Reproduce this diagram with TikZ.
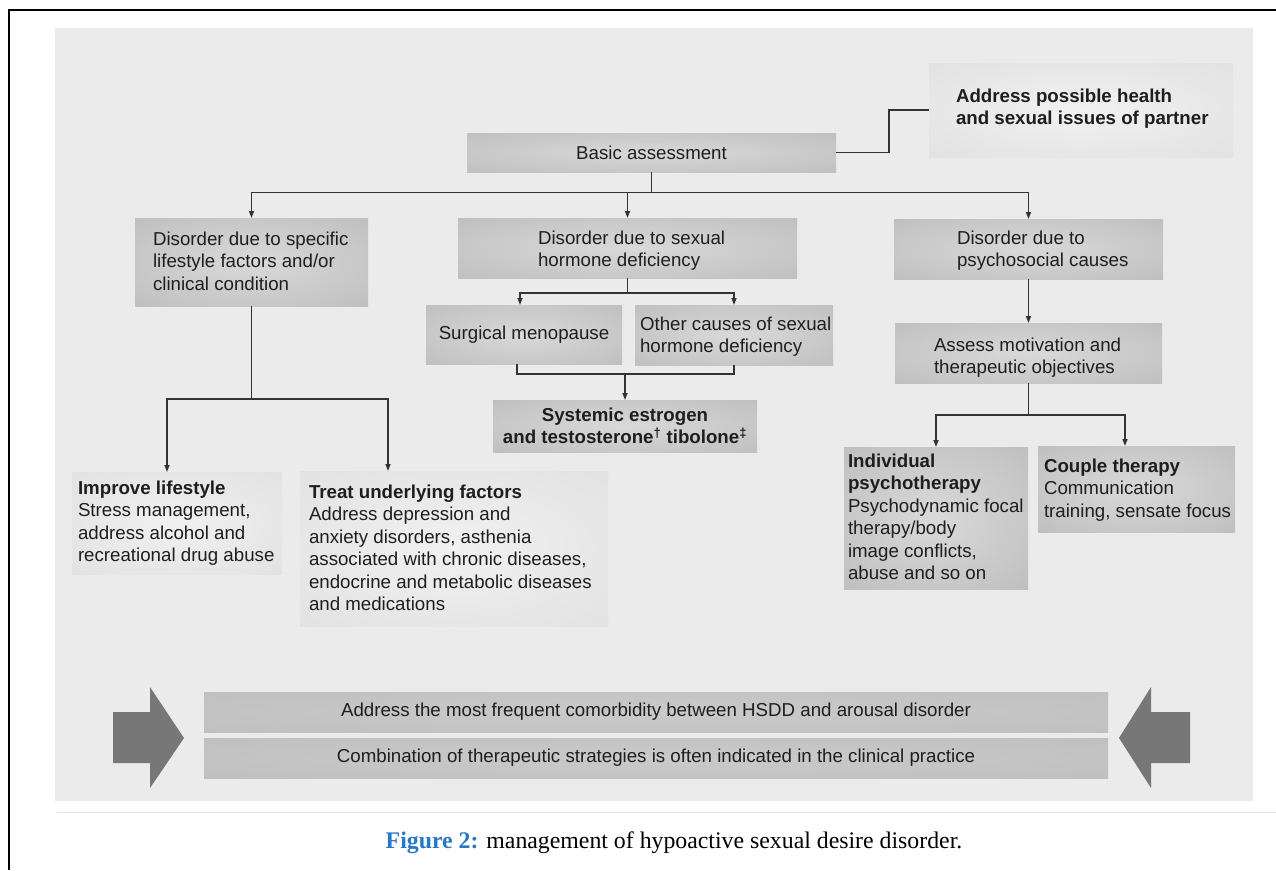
\documentclass[tikz,border=0pt]{standalone}
\usepackage{fontspec}
\setmainfont{Liberation Serif}
\newfontfamily\arialf{Liberation Sans}
\usetikzlibrary{arrows.meta,calc}
\definecolor{panel}{HTML}{EBEBEB}
\definecolor{boxin}{HTML}{D9D9D9}
\definecolor{boxout}{HTML}{B5B5B5}
\definecolor{litin}{HTML}{F1F1F1}
\definecolor{litout}{HTML}{DCDCDC}
\definecolor{barin}{HTML}{CACACA}
\definecolor{barout}{HTML}{BCBCBC}
\definecolor{bigarrow}{HTML}{777777}
\definecolor{lin}{HTML}{333333}
\definecolor{txt}{HTML}{1E1E1E}
\definecolor{figblue}{HTML}{2878C8}
\definecolor{faint}{HTML}{E6E6E6}
\pgfdeclareradialshading{darkshade}{\pgfpoint{0bp}{0bp}}{color(0bp)=(boxin); color(50bp)=(boxout); color(100bp)=(boxout)}
\pgfdeclareradialshading{lightshade}{\pgfpoint{0bp}{0bp}}{color(0bp)=(litin); color(50bp)=(litout); color(100bp)=(litout)}
\pgfdeclareradialshading{barshade}{\pgfpoint{0bp}{0bp}}{color(0bp)=(barin); color(50bp)=(barout); color(100bp)=(barout)}
\tikzset{
  basebox/.style={rectangle, inner sep=0pt, outer sep=0pt, draw=none, text=txt,
    font=\arialf\fontsize{18.7}{22.4}\selectfont, align=center},
  darkbox/.style={basebox, shading=darkshade},
  lightbox/.style={basebox, shading=lightshade},
  barbox/.style={basebox, shading=barshade},
  tx/.style={inner sep=0pt, outer sep=0pt, text=txt, align=left,
    font=\arialf\fontsize{18.7}{22.4}\selectfont, anchor=base west},
  conn/.style={draw=lin, line width=1.5pt},
  arr/.style={conn, -{Triangle[length=7pt,width=5pt]}},
}
\begin{document}
\begin{tikzpicture}[x=1pt,y=-1pt]
\useasboundingbox (0,0) rectangle (1276,870);
\fill[white] (0,0) rectangle (1276,870);
% panel
\fill[panel] (55,28) rectangle (1253,801);
\draw[faint, line width=1pt] (57,812) -- (1276,812);
% frame
\draw[black, line width=2.5pt] (9,870) -- (9,10) -- (1276,10);

% boxes
\node[darkbox, minimum width=369pt, minimum height=39pt] (basic) at (651.5,152.5) {Basic assessment};
\node[lightbox, minimum width=304pt, minimum height=94pt] (partner) at (1081,110) {};
\node[darkbox, minimum width=233pt, minimum height=88pt] (L1) at (251.5,262) {};
\node[darkbox, minimum width=339pt, minimum height=60pt] (M1) at (627.5,248) {};
\node[darkbox, minimum width=269pt, minimum height=60pt] (R1) at (1028.5,249) {};
\node[darkbox, minimum width=196pt, minimum height=59pt] (surg) at (524,334.5) {Surgical menopause};
\node[darkbox, minimum width=198pt, minimum height=60pt] (other) at (734,335) {};
\node[darkbox, minimum width=264pt, minimum height=52pt, font=\arialf\bfseries\fontsize{18.7}{22.4}\selectfont] (sys) at (625,426) {Systemic estrogen\\and testosterone\textsuperscript{\textdagger} tibolone\textsuperscript{\textdaggerdbl}};
\node[darkbox, minimum width=267pt, minimum height=60pt] (R2) at (1028.5,353) {};
\node[lightbox, minimum width=210pt, minimum height=102pt] (improve) at (177,523) {};
\node[lightbox, minimum width=308pt, minimum height=155pt] (treat) at (454,548.5) {};
\node[darkbox, minimum width=184pt, minimum height=142pt] (indiv) at (936,518) {};
\node[darkbox, minimum width=197pt, minimum height=86pt] (couple) at (1136.5,489) {};
\node[barbox, minimum width=904pt, minimum height=40pt] (b1) at (656,712) {Address the most frequent comorbidity between HSDD and arousal disorder};
\node[barbox, minimum width=904pt, minimum height=40pt] (b2) at (656,758) {Combination of therapeutic strategies is often indicated in the clinical practice};

% texts (anchored at the baseline of their last line)
\node[tx] (partner-t) at (956,124.9) {\bfseries Address possible health\\\bfseries and sexual issues of partner};
\node[tx] (L1-t) at (153,290.3) {Disorder due to specific\\lifestyle factors and/or\\clinical condition};
\node[tx] (M1-t) at (538,266.9) {Disorder due to sexual\\hormone deficiency};
\node[tx] (R1-t) at (957,266.9) {Disorder due to\\psychosocial causes};
\node[tx] (other-t) at (640,352.9) {Other causes of sexual\\hormone deficiency};
\node[tx] (R2-t) at (934,373.9) {Assess motivation and\\therapeutic objectives};
\node[tx] (improve-t) at (78,561.7) {{\bfseries Improve lifestyle}\\Stress management,\\address alcohol and\\recreational drug abuse};
\node[tx] (treat-t) at (309,610.5) {{\bfseries Treat underlying factors}\\Address depression and\\anxiety disorders, asthenia\\associated with chronic diseases,\\endocrine and metabolic diseases\\and medications};
\node[tx] (indiv-t) at (848,579.5) {{\bfseries Individual}\\{\bfseries psychotherapy}\\Psychodynamic focal\\therapy/body\\image conflicts,\\abuse and so on};
\node[tx] (couple-t) at (1044,517.3) {{\bfseries Couple therapy}\\Communication\\training, sensate focus};

% big arrows
\fill[bigarrow] (113,712) -- (150,712) -- (150,687) -- (184,738) -- (150,788) -- (150,763) -- (113,763) -- cycle;
\fill[bigarrow] (1190,712) -- (1151,712) -- (1151,687) -- (1119,738) -- (1151,788) -- (1151,763) -- (1190,763) -- cycle;

% connectors
\draw[conn] (basic.east) -- ++(53,0) |- (partner.west);
\coordinate (j1) at ($(basic.south)+(0,20.5)$);
\draw[conn] (basic.south) -- (j1);
\draw[arr] (j1) -| (L1.north);
\draw[arr] (j1) -| (M1.north);
\draw[arr] (j1) -| (R1.north);

\coordinate (j2) at ($(M1.south)+(0,15)$);
\draw[conn] (M1.south) -- (j2);
\draw[arr] (j2) -| ($(surg.north)+(-4,0)$);
\draw[arr] (j2) -| (other.north);

\coordinate (s1) at ($(surg.south)+(-7,0)$);
\draw[conn] (s1) -- ++(0,10) coordinate (j3a) -| (other.south);
\coordinate (j3) at (sys.north |- j3a);
\draw[arr] (j3) -- (sys.north);

\coordinate (j4) at ($(L1.south)+(0,93)$);
\draw[conn] (L1.south) -- (j4);
\draw[arr] (j4) -| ($(improve.north)+(-10,0)$);
\draw[arr] (j4) -| ($(treat.north west)+(88,0)$);

\draw[arr] (R1.south) -- (R2.north);
\coordinate (j5) at ($(R2.south)+(0,32)$);
\draw[conn] (R2.south) -- (j5);
\draw[arr] (j5) -| (indiv.north);
\draw[arr] (j5) -| ($(couple.north)+(-11.5,0)$);

% caption
\node[anchor=base, inner sep=0pt, font=\fontsize{23.8}{28}\selectfont] (cap) at (674,848) {\textcolor{figblue}{\bfseries Figure 2:} management of hypoactive sexual desire disorder.};
\end{tikzpicture}
\end{document}
